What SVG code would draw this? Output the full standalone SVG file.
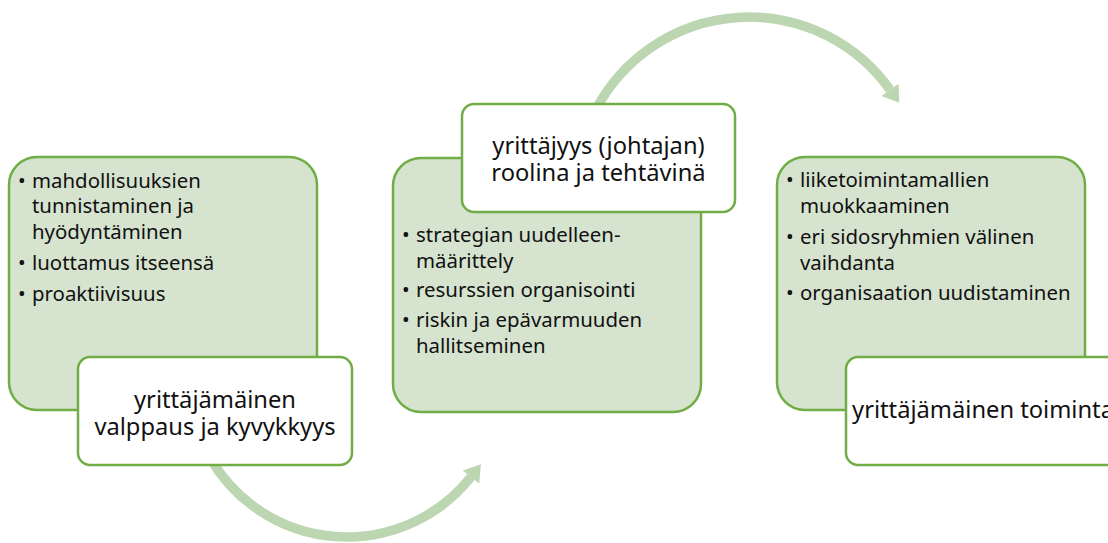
<svg xmlns="http://www.w3.org/2000/svg" width="1108" height="543" viewBox="0 0 1108 543">
  <defs>
    <style>
      .panel { fill: #D6E3CF; stroke: #70AD47; stroke-width: 2.5; }
      .label { fill: #FFFFFF; stroke: #70AD47; stroke-width: 2.5; }
      .flow { fill: none; stroke: #BCD6B1; stroke-width: 9.5; }
      .item { font-family: "Noto Sans", "Open Sans", sans-serif; font-size: 20.4px; fill: #111111; }
      .title { font-family: "Noto Sans", "Open Sans", sans-serif; font-size: 23.7px; fill: #111111; text-anchor: middle; }
    </style>
    <marker id="head" markerUnits="userSpaceOnUse" markerWidth="20" markerHeight="24" refX="0" refY="0" orient="auto" overflow="visible">
      <path d="M0,-10.5 L16,0 L0,10.5 Z" fill="#BCD6B1"/>
    </marker>
  </defs>

  <!-- curved arrows between the stages -->
  <g id="connectors">
    <path class="flow" d="M210.2,458 A158,158 0 0 0 471,476.9" marker-end="url(#head)"/>
    <path class="flow" d="M596.3,108.8 A173,173 0 0 1 890,89.8" marker-end="url(#head)"/>
  </g>

  <!-- stage 1 -->
  <g id="stage1">
    <rect class="panel" x="9" y="157" width="308" height="253" rx="28" ry="28"/>
    <g class="item">
      <text y="187.5"><tspan x="18">•</tspan><tspan x="32">mahdollisuuksien</tspan></text>
      <text x="32" y="213.2">tunnistaminen ja</text>
      <text x="32" y="239">hyödyntäminen</text>
      <text y="270"><tspan x="18">•</tspan><tspan x="32">luottamus itseensä</tspan></text>
      <text y="300.7"><tspan x="18">•</tspan><tspan x="32">proaktiivisuus</tspan></text>
    </g>
    <rect class="label" x="78" y="357" width="274" height="108" rx="12" ry="12"/>
    <text class="title"><tspan x="215" y="408">yrittäjämäinen</tspan><tspan x="215" y="435">valppaus ja kyvykkyys</tspan></text>
  </g>

  <!-- stage 2 -->
  <g id="stage2">
    <rect class="panel" x="393" y="158" width="308" height="254" rx="28" ry="28"/>
    <g class="item">
      <text y="242"><tspan x="402">•</tspan><tspan x="416">strategian uudelleen-</tspan></text>
      <text x="416" y="267.5">määrittely</text>
      <text y="297"><tspan x="402">•</tspan><tspan x="416">resurssien organisointi</tspan></text>
      <text y="327"><tspan x="402">•</tspan><tspan x="416">riskin ja epävarmuuden</tspan></text>
      <text x="416" y="353">hallitseminen</text>
    </g>
    <rect class="label" x="462" y="104" width="273" height="108" rx="12" ry="12"/>
    <text class="title"><tspan x="598.5" y="154">yrittäjyys (johtajan)</tspan><tspan x="598.5" y="181">roolina ja tehtävinä</tspan></text>
  </g>

  <!-- stage 3 -->
  <g id="stage3">
    <rect class="panel" x="777" y="157" width="308" height="253" rx="28" ry="28"/>
    <g class="item">
      <text y="187"><tspan x="786">•</tspan><tspan x="800">liiketoimintamallien</tspan></text>
      <text x="800" y="213">muokkaaminen</text>
      <text y="243.5"><tspan x="786">•</tspan><tspan x="800">eri sidosryhmien välinen</tspan></text>
      <text x="800" y="269.5">vaihdanta</text>
      <text y="300"><tspan x="786">•</tspan><tspan x="800">organisaation uudistaminen</tspan></text>
    </g>
    <rect class="label" x="846" y="357" width="274" height="108" rx="12" ry="12"/>
    <text class="title" x="983" y="418">yrittäjämäinen toiminta</text>
  </g>
</svg>
